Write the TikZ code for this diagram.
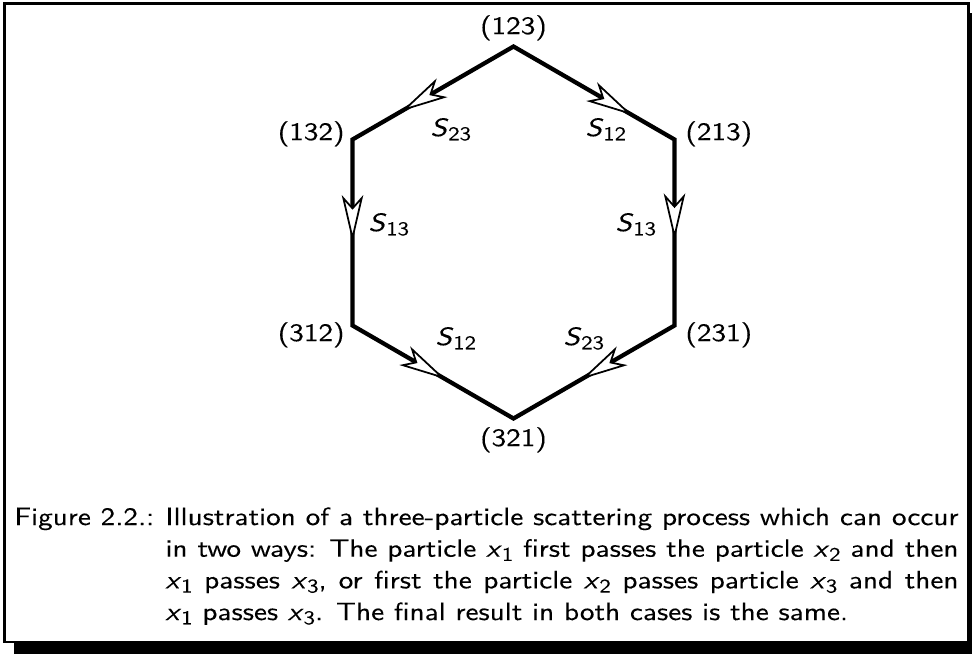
\documentclass[tikz,border=0pt]{standalone}
\usepackage{fontspec}
\setsansfont{lmsans10-regular.otf}[ItalicFont=lmsans10-oblique.otf, BoldFont=lmsans10-bold.otf, FakeStretch=1.17, FakeBold=0.15]
\usetikzlibrary{arrows.meta,calc}
\newcommand\mysub[1]{\raisebox{-1.7pt}{\fontsize{7.8}{8}\selectfont #1}}
\newcommand\pvar[1]{\textit{x}\mysub{#1}}
\newcommand\Ssub[1]{\textit{S}\mysub{#1}}
\tikzset{
  lab/.style={inner sep=0pt, font=\sffamily},
  edge/.style={line width=1.7pt, line join=miter},
  arr/.style={line width=0.7pt, -{Stealth[length=18.6pt, width=8.6pt, inset=4.8pt, fill=white]}},
}
\begin{document}
\begin{tikzpicture}[x=0.4pt, y=-0.4pt]
\useasboundingbox (0,0) rectangle (972,654);
% shadow box
\fill[black] (14,643.3) rectangle (975,654);
\fill[black] (969.7,13) rectangle (975,654);
\draw[line width=1.08pt, fill=white] (4.65,3.35) rectangle (968.35,641.95);
% vertices
\coordinate (v123) at (513.5,46.5);
\coordinate (v132) at (352.5,139.5);
\coordinate (v213) at (674.5,139.5);
\coordinate (v312) at (352.5,325.5);
\coordinate (v231) at (674.5,325.5);
\coordinate (v321) at (513.5,418.5);
\draw[edge] (v123) -- (v132) -- (v312) -- (v321) -- (v231) -- (v213) -- cycle;
% arrows
\draw[arr] (v123) -- ($(v123)!0.694!(v132)$);
\draw[arr] (v123) -- ($(v123)!0.736!(v213)$);
\draw[arr] (v132) -- ($(v132)!0.549!(v312)$);
\draw[arr] (v213) -- ($(v213)!0.54!(v231)$);
\draw[arr] (v312) -- ($(v312)!0.575!(v321)$);
\draw[arr] (v231) -- ($(v231)!0.576!(v321)$);
% vertex labels
\node[lab, anchor=base] (l123) at (513.5,34) {(123)};
\node[lab, anchor=base east] (l132) at (345,140) {(132)};
\node[lab, anchor=base west] (l213) at (685,140) {(213)};
\node[lab, anchor=base east] (l312) at (345,341) {(312)};
\node[lab, anchor=base west] (l231) at (685,341) {(231)};
\node[lab, anchor=base] (l321) at (513.5,446) {(321)};
% edge labels
\node[lab, anchor=base west] (s1) at (430,136) {\Ssub{23}};
\node[lab, anchor=base west] (s2) at (585,136) {\Ssub{12}};
\node[lab, anchor=base west] (s3) at (368,231) {\Ssub{13}};
\node[lab, anchor=base west] (s4) at (615,231) {\Ssub{13}};
\node[lab, anchor=base west] (s5) at (435,345) {\Ssub{12}};
\node[lab, anchor=base west] (s6) at (563,345) {\Ssub{23}};
% caption
\node[lab, anchor=base west] (cap0) at (14,525) {Figure 2.2.:};
\node[lab, anchor=base west] (cap1) at (165,525) {\makebox[317.2pt][s]{Illustration of a three-particle scattering process which can occur}};
\node[lab, anchor=base west] (cap2) at (165,556.7) {\makebox[317.2pt][s]{in two ways: The particle \pvar{1} first passes the particle \pvar{2} and then}};
\node[lab, anchor=base west] (cap3) at (165,588.3) {\makebox[317.2pt][s]{\pvar{1} passes \pvar{3}, or first the particle \pvar{2} passes particle \pvar{3} and then}};
\node[lab, anchor=base west] (cap4) at (165,620) {\pvar{1} passes \pvar{3}. The final result in both cases is the same.};
\end{tikzpicture}
\end{document}
